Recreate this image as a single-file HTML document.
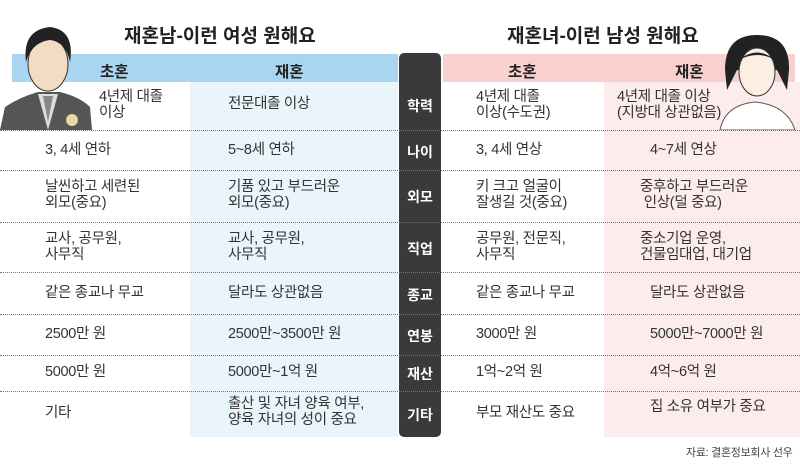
<!DOCTYPE html>
<html><head><meta charset="utf-8"><style>
body{margin:0;width:800px;height:467px;background:#fff;position:relative;overflow:hidden;font-family:"Liberation Sans","Noto Sans CJK KR",sans-serif;color:#333}
.a{position:absolute}
.t{font-size:14.5px;line-height:16px;white-space:nowrap;letter-spacing:-0.3px}
.h{font-size:19px;font-weight:bold;color:#222;white-space:nowrap}
.hd{font-size:15.5px;font-weight:bold;color:#222}
.lb{color:#fff;font-weight:bold;font-size:14px;width:42px;text-align:center;left:399px}
.dl{position:absolute;left:0;width:800px;border-top:1px dotted #777;height:0}
</style></head><body>
<div class="a" style="left:190px;top:82px;width:208px;height:355px;background:#eaf4fb"></div>
<div class="a" style="left:604px;top:82px;width:196px;height:355px;background:#fdecec"></div>
<div class="a" style="left:12px;top:54px;width:386px;height:28px;background:#a9d5f1"></div>
<div class="a" style="left:443px;top:54px;width:352px;height:28px;background:#f9d0d0"></div>
<div class="a" style="left:399px;top:53px;width:42px;height:384px;background:#3a3a3a;border-radius:5px"></div>
<div class="dl" style="top:130px"></div><div class="dl" style="top:170px"></div>
<div class="dl" style="top:222px"></div><div class="dl" style="top:272px"></div>
<div class="dl" style="top:314px"></div><div class="dl" style="top:355px"></div>
<div class="dl" style="top:391px"></div>
<div class="a h" style="left:124px;top:21px">재혼남-이런 여성 원해요</div>
<div class="a h" style="left:507px;top:21px">재혼녀-이런 남성 원해요</div>
<div class="a hd" style="left:100px;top:60px">초혼</div>
<div class="a hd" style="left:275px;top:60px">재혼</div>
<div class="a hd" style="left:508px;top:60px">초혼</div>
<div class="a hd" style="left:675px;top:60px">재혼</div>
<!-- man -->
<svg class="a" style="left:0;top:22px" width="95" height="108">
<path d="M0 108 L5 85 Q20 75 38 70 L60 70 Q80 75 90 85 L92 108Z" fill="#555"/>
<path d="M38 72 L48 108 L58 72Z" fill="#ddd"/>
<path d="M43 74 L48 100 L53 74Z" fill="#888"/>
<ellipse cx="48" cy="42" rx="20" ry="27" fill="#f3dcc4" stroke="#333"/>
<path d="M26 40 Q22 8 50 5 Q75 8 70 40 Q66 20 50 18 Q32 20 26 40Z" fill="#222"/>
<circle cx="72" cy="98" r="6" fill="#e8d9a0"/>
</svg>
<!-- woman -->
<svg class="a" style="left:715px;top:30px" width="85" height="100">
<path d="M5 100 Q10 75 40 72 Q72 75 80 100Z" fill="#fff" stroke="#555"/>
<path d="M10 40 Q10 5 42 5 Q75 5 74 40 L72 60 L62 40 L22 40 L12 60Z" fill="#222"/>
<ellipse cx="42" cy="42" rx="18" ry="24" fill="#fbeee3" stroke="#333"/>
<path d="M24 30 Q42 15 60 30 Q42 20 24 30Z" fill="#222"/>
</svg>
<div class="a lb" style="top:96px">학력</div>
<div class="a lb" style="top:142px">나이</div>
<div class="a lb" style="top:187px">외모</div>
<div class="a lb" style="top:239px">직업</div>
<div class="a lb" style="top:285px">종교</div>
<div class="a lb" style="top:326px">연봉</div>
<div class="a lb" style="top:364px">재산</div>
<div class="a lb" style="top:405px">기타</div>
<div class="a t" style="left:99px;top:89px">4년제 대졸<br>이상</div>
<div class="a t" style="left:228px;top:96px">전문대졸 이상</div>
<div class="a t" style="left:45px;top:142px">3, 4세 연하</div>
<div class="a t" style="left:228px;top:142px">5~8세 연하</div>
<div class="a t" style="left:45px;top:179px">날씬하고 세련된<br>외모(중요)</div>
<div class="a t" style="left:228px;top:179px">기품 있고 부드러운<br>외모(중요)</div>
<div class="a t" style="left:45px;top:231px">교사, 공무원,<br>사무직</div>
<div class="a t" style="left:228px;top:231px">교사, 공무원,<br>사무직</div>
<div class="a t" style="left:45px;top:285px">같은 종교나 무교</div>
<div class="a t" style="left:228px;top:285px">달라도 상관없음</div>
<div class="a t" style="left:45px;top:326px">2500만 원</div>
<div class="a t" style="left:228px;top:326px">2500만~3500만 원</div>
<div class="a t" style="left:45px;top:364px">5000만 원</div>
<div class="a t" style="left:228px;top:364px">5000만~1억 원</div>
<div class="a t" style="left:45px;top:405px">기타</div>
<div class="a t" style="left:228px;top:396px">출산 및 자녀 양육 여부,<br>양육 자녀의 성이 중요</div>
<div class="a t" style="left:476px;top:89px">4년제 대졸<br>이상(수도권)</div>
<div class="a t" style="left:617px;top:89px">4년제 대졸 이상<br>(지방대 상관없음)</div>
<div class="a t" style="left:476px;top:142px">3, 4세 연상</div>
<div class="a t" style="left:650px;top:142px">4~7세 연상</div>
<div class="a t" style="left:476px;top:179px">키 크고 얼굴이<br>잘생길 것(중요)</div>
<div class="a t" style="left:640px;top:179px">중후하고 부드러운<br>&nbsp;인상(덜 중요)</div>
<div class="a t" style="left:476px;top:231px">공무원, 전문직,<br>사무직</div>
<div class="a t" style="left:640px;top:231px">중소기업 운영,<br>건물임대업, 대기업</div>
<div class="a t" style="left:476px;top:285px">같은 종교나 무교</div>
<div class="a t" style="left:650px;top:285px">달라도 상관없음</div>
<div class="a t" style="left:476px;top:326px">3000만 원</div>
<div class="a t" style="left:650px;top:326px">5000만~7000만 원</div>
<div class="a t" style="left:476px;top:364px">1억~2억 원</div>
<div class="a t" style="left:650px;top:364px">4억~6억 원</div>
<div class="a t" style="left:476px;top:405px">부모 재산도 중요</div>
<div class="a t" style="left:650px;top:399px">집 소유 여부가 중요</div>
<div class="a" style="left:686px;top:444px;font-size:11px;color:#444;white-space:nowrap;letter-spacing:-0.3px">자료: 결혼정보회사 선우</div>
</body></html>
